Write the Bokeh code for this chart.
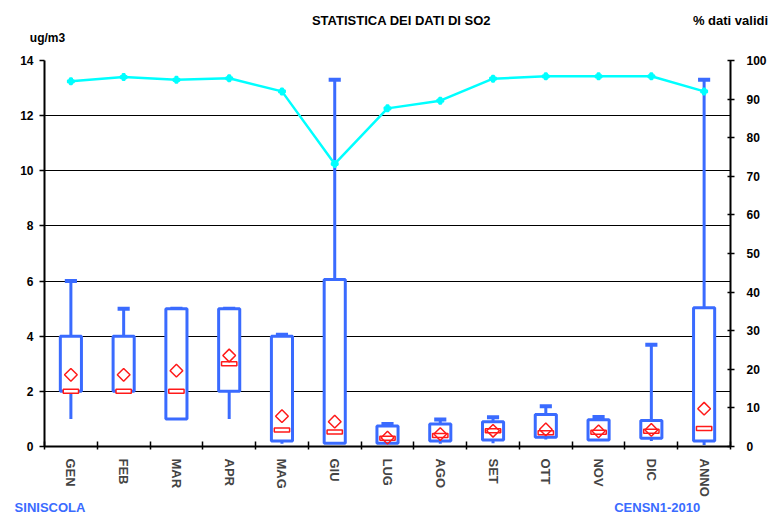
import math
from bokeh.plotting import figure
from bokeh.models import Range1d, LinearAxis, FixedTicker, Grid
from bokeh.embed import file_html
from bokeh.resources import INLINE

# ---------------- data ----------------
mesi = ["GEN", "FEB", "MAR", "APR", "MAG", "GIU", "LUG", "AGO", "SET", "OTT", "NOV", "DIC", "ANNO"]
minimo  = [1.0, 2.0, 1.0, 1.0, 0.10, 0.10, 0.10, 0.10, 0.12, 0.25, 0.20, 0.20, 0.05]
q1      = [2.0, 2.0, 1.0, 2.0, 0.20, 0.12, 0.12, 0.20, 0.24, 0.34, 0.24, 0.30, 0.20]
mediana = [2.0, 2.0, 2.0, 3.0, 0.60, 0.53, 0.30, 0.40, 0.57, 0.50, 0.52, 0.55, 0.65]
q3      = [4.0, 4.0, 5.0, 5.0, 4.00, 6.06, 0.74, 0.82, 0.90, 1.16, 0.97, 0.94, 5.03]
massimo = [6.0, 5.0, 5.0, 5.0, 4.05, 13.3, 0.82, 0.98, 1.06, 1.46, 1.07, 3.69, 13.3]
media   = [2.6, 2.6, 2.75, 3.3, 1.10, 0.90, 0.32, 0.45, 0.57, 0.62, 0.55, 0.60, 1.37]
perc_validi = [94.6, 95.7, 95.0, 95.4, 92.0, 73.2, 87.6, 89.6, 95.3, 95.9, 95.9, 95.9, 92.0]

left_ticks = [0, 2, 4, 6, 8, 10, 12, 14]
right_ticks = [0, 10, 20, 30, 40, 50, 60, 70, 80, 90, 100]

titolo = "STATISTICA DEI DATI DI SO2"
unita = "ug/m3"
titolo_dx = "% dati validi"
stazione = "SINISCOLA"
codice = "CENSN1-2010"

BLUE = "#3a6bff"
RED = "#ff1a1a"
CYAN = "#00ffff"
FONT = "Liberation Sans"

x = list(range(len(mesi)))
bounds = [i - 0.5 for i in range(len(mesi) + 1)]

p = figure(width=769, height=517, x_range=Range1d(-0.5, len(mesi) - 0.5), y_range=Range1d(0, 14),
           output_backend="svg", toolbar_location=None,
           x_axis_type=None, y_axis_type=None,
           min_border_left=44, min_border_right=37, min_border_top=60, min_border_bottom=71)
p.outline_line_color = None
p.background_fill_color = "white"
p.border_fill_color = "white"
p.extra_y_ranges = {"pct": Range1d(0, 100)}

# grid
grid = Grid(dimension=1, ticker=FixedTicker(ticks=left_ticks))
grid.grid_line_color = "#000000"
grid.grid_line_width = 1
p.add_layout(grid)

# value axes
ax_l = LinearAxis(ticker=FixedTicker(ticks=left_ticks, minor_ticks=[]))
ax_r = LinearAxis(y_range_name="pct", ticker=FixedTicker(ticks=right_ticks, minor_ticks=[]))
for ax in (ax_l, ax_r):
    ax.axis_line_color = "black"
    ax.axis_line_width = 2
    ax.major_tick_line_color = "black"
    ax.major_tick_line_width = 1.5
    ax.major_label_text_font = FONT
    ax.major_label_text_font_style = "bold"
    ax.major_label_text_font_size = "12px"
    ax.major_label_text_color = "black"
ax_l.major_tick_out = 5
ax_l.major_tick_in = 0
ax_l.major_label_standoff = 6
ax_r.major_tick_out = 4
ax_r.major_tick_in = 3
ax_r.major_label_standoff = 12
p.add_layout(ax_l, "left")
p.add_layout(ax_r, "right")

# category axis
ax_b = LinearAxis(ticker=FixedTicker(ticks=x, minor_ticks=bounds),
                  major_label_overrides={i: m for i, m in zip(x, mesi)})
ax_b.axis_line_color = "black"
ax_b.axis_line_width = 2
ax_b.major_tick_line_color = None
ax_b.major_tick_in = 0
ax_b.major_tick_out = 0
ax_b.minor_tick_line_color = "black"
ax_b.minor_tick_line_width = 1.5
ax_b.minor_tick_in = 5
ax_b.minor_tick_out = 3
ax_b.major_label_orientation = "vertical"
ax_b.major_label_text_font = FONT
ax_b.major_label_text_font_style = "bold"
ax_b.major_label_text_font_size = "13px"
ax_b.major_label_standoff = 9
p.add_layout(ax_b, "below")

# text rows carried by label-only axes
def text_axis(pos, labels, place, size, standoff, color="black"):
    ax = LinearAxis(ticker=FixedTicker(ticks=pos, minor_ticks=[]),
                    major_label_overrides=dict(zip(pos, labels)))
    ax.axis_line_color = None
    ax.major_tick_line_color = None
    ax.minor_tick_line_color = None
    ax.major_tick_in = 0
    ax.major_tick_out = 0
    ax.major_label_text_font = FONT
    ax.major_label_text_font_style = "bold"
    ax.major_label_text_font_size = size
    ax.major_label_text_color = color
    ax.major_label_standoff = standoff
    p.add_layout(ax, place)

text_axis([-0.443], [unita], "above", "12px", 16)
text_axis([6.265, 12.5], [titolo, titolo_dx], "above", "13px", 0)
text_axis([-0.396, 11.111], [stazione, codice], "below", "13px", 0, BLUE)

# whiskers
p.segment(x0=x, y0=q3, x1=x, y1=massimo, line_color=BLUE, line_width=3)
p.segment(x0=x, y0=minimo, x1=x, y1=q1, line_color=BLUE, line_width=3)
cap_half = 0.115
p.segment(x0=[c - cap_half for c in x], y0=massimo, x1=[c + cap_half for c in x], y1=massimo,
          line_color=BLUE, line_width=4)
# boxes
p.vbar(x=x, bottom=q1, top=q3, width=0.40, fill_color="white", line_color=BLUE, line_width=3)
# medians
p.rect(x=x, y=mediana, width=0.29, height=4, height_units="screen",
       fill_color="white", line_color=RED, line_width=1.5)
# means
p.scatter(x=x, y=media, marker="square", angle=math.pi / 4, size=9,
          fill_color=None, line_color=RED, line_width=1.5)
# % dati validi
p.line(x=x, y=perc_validi, y_range_name="pct", line_color=CYAN, line_width=2.5)
p.scatter(x=x, y=perc_validi, y_range_name="pct", marker="plus", size=6,
          line_color=CYAN, fill_color=CYAN, line_width=2)

open("out.html", "w").write(file_html(p, INLINE))
